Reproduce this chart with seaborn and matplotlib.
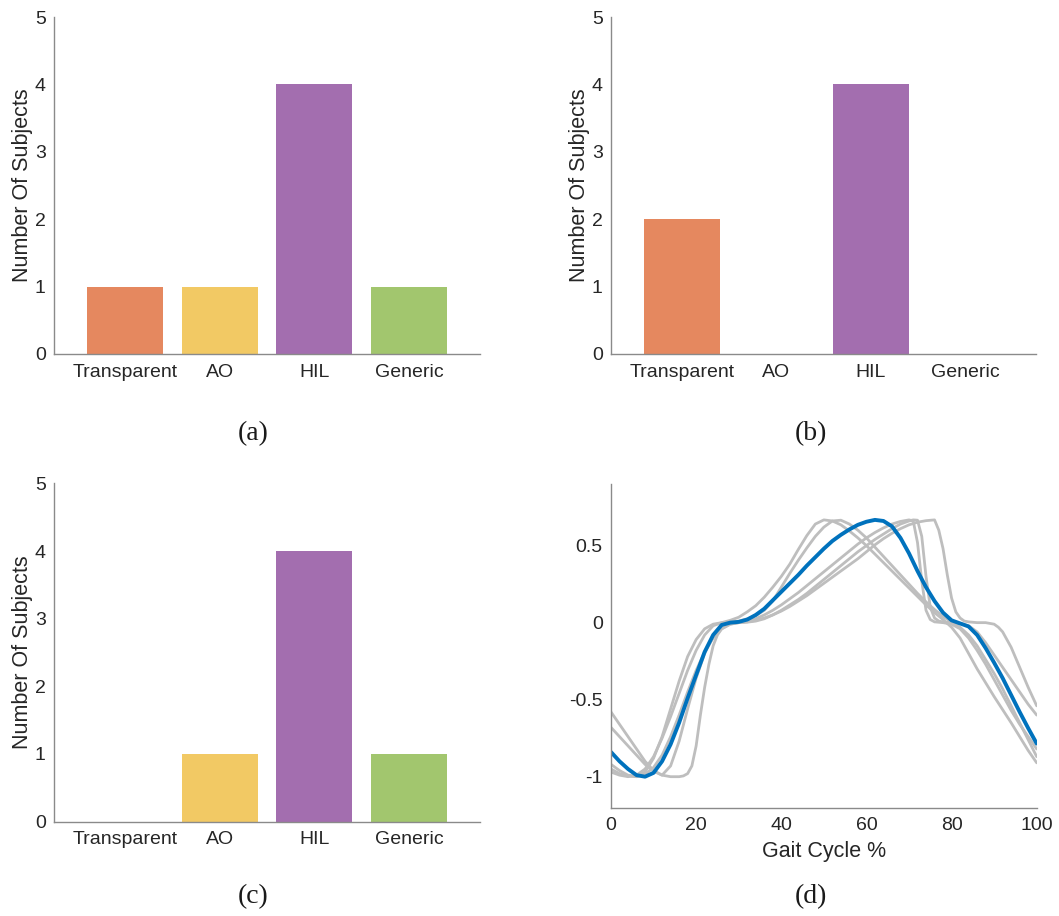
import numpy as np
import pandas as pd
import matplotlib
matplotlib.use("Agg")
import matplotlib.pyplot as plt
import seaborn as sns

# ---- bar panels -------------------------------------------------------------
categories = ["Transparent", "AO", "HIL", "Generic"]
bar_colors = ["#E5885F", "#F2C964", "#A36EAF", "#A2C66E"]
counts_a = [1, 1, 4, 1]
counts_b = [2, 0, 4, 0]
counts_c = [0, 1, 4, 1]
count_ticks = [0, 1, 2, 3, 4, 5]

# ---- gait-cycle trajectories (panel d) ---------------------------------------
grid2 = list(range(0, 101, 2))

g1_x = grid2
g1_y = [-0.92, -0.96, -0.99, -1.0, -0.97, -0.88, -0.74, -0.56, -0.38, -0.22,
        -0.11, -0.04, -0.01, 0.0, 0.015, 0.035, 0.07, 0.11, 0.165, 0.23,
        0.30, 0.38, 0.475, 0.565, 0.64, 0.667, 0.66, 0.635, 0.595, 0.55,
        0.50, 0.445, 0.39, 0.335, 0.28, 0.225, 0.17, 0.115, 0.065, 0.02,
        -0.03, -0.10, -0.20, -0.30, -0.39, -0.48, -0.565, -0.65, -0.74, -0.83,
        -0.91]

g2_x = grid2
g2_y = [-0.97, -0.99, -1.0, -0.99, -0.95, -0.87, -0.75, -0.61, -0.46, -0.31,
        -0.18, -0.08, -0.02, 0.0, 0.005, 0.01, 0.025, 0.045, 0.08, 0.14,
        0.23, 0.32, 0.405, 0.485, 0.56, 0.62, 0.66, 0.665, 0.64, 0.60,
        0.55, 0.49, 0.43, 0.37, 0.31, 0.25, 0.19, 0.135, 0.085, 0.04,
        0.005, -0.03, -0.08, -0.15, -0.24, -0.33, -0.43, -0.54, -0.65, -0.76,
        -0.87]

g3_x = list(range(0, 71, 2)) + [71, 72, 73, 74, 75, 76] + list(range(78, 101, 2))
g3_y = [-0.58, -0.66, -0.74, -0.82, -0.90, -0.96, -0.99, -0.93, -0.77, -0.56,
        -0.36, -0.20, -0.09, -0.03, -0.005, 0.0, 0.01, 0.025, 0.05, 0.08,
        0.115, 0.155, 0.195, 0.24, 0.285, 0.33, 0.375, 0.42, 0.465, 0.51,
        0.55, 0.585, 0.615, 0.64, 0.657, 0.667,
        0.66, 0.52, 0.27, 0.08, 0.02, 0.005,
        0.0, -0.01, -0.04, -0.10, -0.18, -0.27, -0.37, -0.47, -0.57, -0.66,
        -0.74, -0.82]

g4_x = list(range(0, 77, 2)) + [77, 78, 79, 80, 81, 82, 83, 84, 86, 88, 90, 91,
                                92, 94, 96, 98, 100]
g4_y = [-0.95, -0.98, -0.995, -1.0, -0.985, -0.94, -0.86, -0.74, -0.60, -0.45,
        -0.31, -0.19, -0.10, -0.04, -0.01, 0.0, 0.005, 0.015, 0.03, 0.05,
        0.075, 0.105, 0.14, 0.175, 0.215, 0.255, 0.295, 0.335, 0.375, 0.415,
        0.46, 0.505, 0.545, 0.58, 0.61, 0.635, 0.652, 0.662, 0.667,
        0.60, 0.48, 0.31, 0.16, 0.07, 0.03, 0.01, 0.005, 0.0, 0.0, -0.01, -0.03,
        -0.06, -0.16, -0.29, -0.42, -0.54]

g5_x = (list(range(0, 17, 2)) + [17, 18, 19, 20, 21, 22, 23, 24, 25, 26]
        + list(range(28, 71, 2)) + [71, 72, 73, 74, 75, 76, 77, 78]
        + list(range(80, 101, 2)))
g5_y = [-0.68, -0.74, -0.80, -0.86, -0.92, -0.965, -0.99, -1.0, -1.0,
        -0.995, -0.98, -0.93, -0.80, -0.60, -0.42, -0.27, -0.15, -0.08, -0.04,
        -0.01, 0.0, 0.003, 0.01, 0.025, 0.05, 0.08, 0.115, 0.15, 0.19,
        0.235, 0.28, 0.325, 0.37, 0.415, 0.46, 0.50, 0.54, 0.575, 0.61,
        0.64, 0.66,
        0.667, 0.665, 0.56, 0.30, 0.10, 0.03, 0.01, 0.005,
        0.0, -0.005, -0.02, -0.06, -0.13, -0.21, -0.29, -0.37, -0.45, -0.53,
        -0.60]

mean_x = grid2
mean_y = [-0.84, -0.90, -0.95, -0.99, -1.0, -0.975, -0.90, -0.79, -0.65, -0.49,
          -0.34, -0.19, -0.08, -0.015, 0.0, 0.005, 0.02, 0.05, 0.09, 0.145,
          0.20, 0.255, 0.31, 0.37, 0.425, 0.48, 0.53, 0.57, 0.605, 0.635,
          0.655, 0.667, 0.66, 0.625, 0.55, 0.45, 0.335, 0.23, 0.14, 0.065,
          0.015, -0.005, -0.025, -0.08, -0.165, -0.26, -0.36, -0.47, -0.58,
          -0.685, -0.785]

gait_xticks = [0, 20, 40, 60, 80, 100]
gait_yticks = [-1, -0.5, 0, 0.5]
gait_yticklabels = ["-1", "-0.5", "0", "0.5"]

# ---- styling ----------------------------------------------------------------
sns.set_theme(style="white")
plt.rcParams["font.family"] = ["Liberation Sans", "DejaVu Sans"]
AXIS_GREY = "#8a8a8a"
TEXT_GREY = "#262626"

W, H = 1059, 916
fig = plt.figure(figsize=(W / 100, H / 100), dpi=100)


def px_axes(left, top, right, bottom):
    return fig.add_axes([left / W, 1 - bottom / H, (right - left) / W, (bottom - top) / H])


def style_axes(ax):
    sns.despine(ax=ax)
    for side in ("left", "bottom"):
        ax.spines[side].set_color(AXIS_GREY)
        ax.spines[side].set_linewidth(1.0)
    ax.tick_params(direction="in", length=5, width=0.9, color=AXIS_GREY,
                   labelcolor=TEXT_GREY, labelsize=14)
    ax.tick_params(axis="y", pad=6)
    ax.tick_params(axis="x", pad=7)


def bar_panel(ax, counts):
    df = pd.DataFrame({"method": categories, "n": counts})
    sns.barplot(data=df, x="method", y="n", hue="method", palette=bar_colors,
                order=categories, hue_order=categories, legend=False,
                width=0.8, saturation=1, linewidth=0, ax=ax)
    ax.set_xlim(-0.75, 3.75)
    ax.set_ylim(0, 5)
    ax.set_yticks(count_ticks)
    ax.set_xlabel("")
    ax.set_ylabel("Number Of Subjects", fontsize=15.5, color=TEXT_GREY, labelpad=1.5)
    style_axes(ax)


ax_a = px_axes(54, 17, 480, 354)
bar_panel(ax_a, counts_a)
ax_b = px_axes(611, 17, 1036, 354)
bar_panel(ax_b, counts_b)
ax_c = px_axes(54, 483.5, 480, 821.5)
bar_panel(ax_c, counts_c)

# ---- gait trajectories -------------------------------------------------------
ax_d = px_axes(611, 484, 1036.7, 807.5)
curves = [(g1_x, g1_y), (g2_x, g2_y), (g3_x, g3_y), (g4_x, g4_y), (g5_x, g5_y)]
traj = pd.concat(
    [pd.DataFrame({"cycle": cx, "value": cy, "subject": i})
     for i, (cx, cy) in enumerate(curves)],
    ignore_index=True)
sns.lineplot(data=traj, x="cycle", y="value", units="subject", estimator=None,
             color="#bebebe", linewidth=2.0, ax=ax_d)
sns.lineplot(x=mean_x, y=mean_y, color="#0072BD", linewidth=2.8, ax=ax_d)
ax_d.set_xlim(0, 100)
ax_d.set_ylim(-1.2, 0.9)
ax_d.set_xticks(gait_xticks)
ax_d.set_yticks(gait_yticks)
ax_d.set_yticklabels(gait_yticklabels)
ax_d.set_xlabel("Gait Cycle %", fontsize=15.5, color=TEXT_GREY, labelpad=5)
ax_d.set_ylabel("")
style_axes(ax_d)

# ---- sub-figure captions -----------------------------------------------------
for label, cx, cy in [("(a)", 253.5, 434), ("(b)", 811, 434),
                      ("(c)", 253.5, 897), ("(d)", 811, 897)]:
    fig.text(cx / W, 1 - cy / H, label, ha="center", va="center",
             fontsize=20, color="#1a1a1a", family=["Liberation Serif", "DejaVu Serif"])

fig.savefig("out.png", dpi=100)
